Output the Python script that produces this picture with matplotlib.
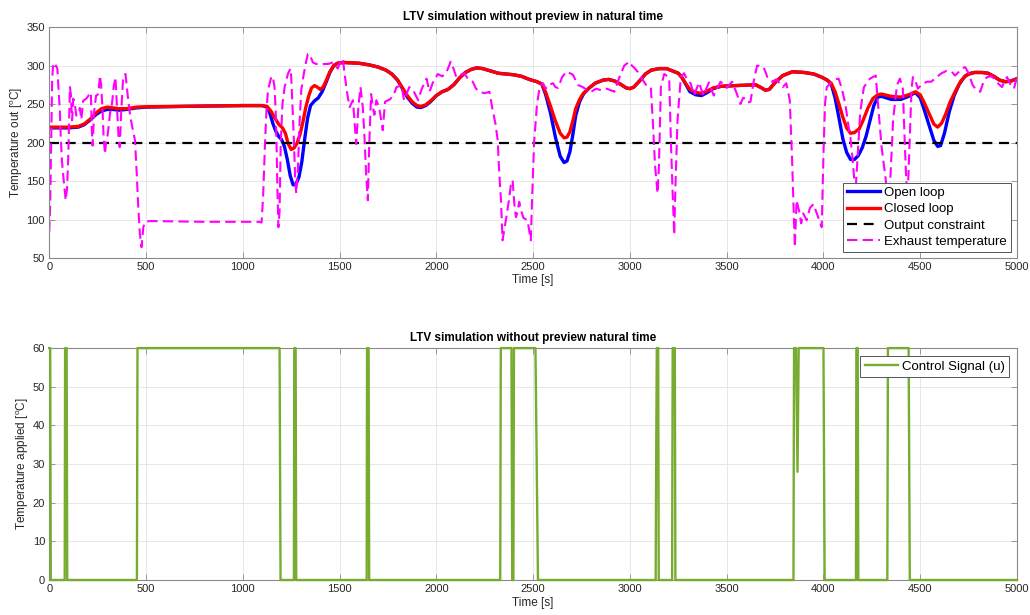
import numpy as np
import matplotlib
matplotlib.use('Agg')
from matplotlib import pyplot as plt

# ---- data ----
time_ticks = list(range(0, 5001, 500))
constraint_level = 200

closed_loop = [
    (0, 220), (100, 220), (150, 221), (180, 224), (210, 230), (240, 238), (270, 244),
    (300, 246), (330, 245), (360, 244), (400, 244), (450, 246), (500, 246.5), (700, 247),
    (1000, 248), (1100, 248), (1125, 247), (1145, 241), (1165, 232), (1185, 224),
    (1205, 219), (1220, 212), (1235, 198), (1250, 191), (1265, 193), (1280, 199),
    (1295, 210), (1310, 226), (1325, 245), (1340, 260), (1355, 271), (1370, 274),
    (1385, 272), (1400, 269), (1415, 272), (1430, 280), (1450, 292), (1470, 300),
    (1490, 303), (1520, 304), (1600, 303), (1650, 301), (1700, 298), (1740, 294),
    (1770, 289), (1800, 281), (1825, 271), (1850, 261), (1875, 253), (1900, 248),
    (1920, 247), (1945, 249), (1970, 254), (2000, 261), (2030, 266), (2060, 269),
    (2090, 275), (2120, 284), (2150, 291), (2180, 295), (2210, 297), (2240, 296),
    (2280, 293), (2320, 290), (2360, 289), (2400, 288), (2440, 286), (2480, 282),
    (2520, 279), (2545, 276), (2565, 265), (2590, 247), (2615, 228), (2640, 212),
    (2660, 206), (2675, 207), (2690, 214), (2705, 228), (2720, 244), (2740, 256),
    (2760, 264), (2790, 271), (2820, 277), (2860, 281), (2890, 282), (2920, 280),
    (2950, 276), (2980, 271), (3000, 270), (3020, 272), (3050, 280), (3080, 289),
    (3110, 294), (3150, 296), (3190, 296), (3220, 293), (3250, 290), (3270, 284),
    (3290, 276), (3310, 269), (3340, 265), (3370, 264), (3400, 267), (3430, 271),
    (3470, 273), (3550, 274), (3650, 275), (3680, 271), (3700, 268), (3720, 269),
    (3750, 278), (3790, 287), (3840, 292), (3900, 291), (3950, 289), (3990, 285),
    (4020, 281), (4040, 277), (4060, 266), (4080, 250), (4100, 233), (4120, 219),
    (4140, 212), (4160, 213), (4185, 218), (4205, 229), (4230, 245), (4255, 257),
    (4280, 262), (4300, 263), (4350, 260), (4400, 259), (4440, 262), (4475, 266),
    (4500, 262), (4520, 252), (4545, 238), (4570, 224), (4590, 220), (4610, 225),
    (4630, 236), (4655, 253), (4680, 266), (4710, 280), (4740, 288), (4780, 291),
    (4820, 291), (4850, 290), (4880, 286), (4910, 281), (4940, 279), (4970, 280),
    (5000, 283),
]

open_loop = [
    (0, 219), (100, 219), (150, 220), (180, 223), (210, 229), (240, 236), (270, 241),
    (300, 243), (330, 243), (360, 242), (400, 243), (450, 245), (500, 246), (700, 247),
    (1000, 248), (1100, 248), (1125, 246), (1140, 238), (1155, 225), (1170, 215),
    (1185, 208), (1200, 204), (1215, 195), (1230, 178), (1245, 157), (1260, 145),
    (1275, 146), (1290, 155), (1305, 175), (1320, 205), (1335, 232), (1350, 248),
    (1370, 254), (1390, 258), (1410, 266), (1430, 278), (1450, 291), (1470, 300),
    (1490, 303), (1520, 304), (1600, 303), (1650, 301), (1700, 298), (1740, 294),
    (1770, 289), (1800, 281), (1825, 270), (1850, 259), (1875, 251), (1900, 246),
    (1920, 245.5), (1945, 248), (1970, 253), (2000, 261), (2030, 266), (2060, 269),
    (2090, 275), (2120, 284), (2150, 291), (2180, 295), (2210, 297), (2240, 296),
    (2280, 293), (2320, 290), (2360, 289), (2400, 288), (2440, 286), (2480, 282),
    (2520, 279), (2545, 276), (2565, 262), (2590, 238), (2615, 207), (2640, 182),
    (2660, 174), (2675, 176), (2690, 188), (2705, 210), (2720, 235), (2740, 253),
    (2760, 263), (2790, 271), (2820, 277), (2860, 281), (2890, 282), (2920, 280),
    (2950, 276), (2980, 271), (3000, 270), (3020, 272), (3050, 280), (3080, 289),
    (3110, 294), (3150, 296), (3190, 296), (3220, 293), (3250, 290), (3270, 284),
    (3290, 275), (3310, 266), (3340, 262), (3370, 261), (3400, 265), (3430, 270),
    (3470, 273), (3550, 274), (3650, 275), (3680, 271), (3700, 268), (3720, 269),
    (3750, 278), (3790, 287), (3840, 292), (3900, 291), (3950, 289), (3990, 285),
    (4020, 281), (4040, 276), (4060, 258), (4080, 232), (4100, 205), (4120, 187),
    (4140, 178), (4160, 178), (4180, 183), (4200, 193), (4220, 208), (4240, 228),
    (4260, 248), (4280, 259), (4300, 260), (4350, 256), (4400, 256), (4440, 260),
    (4475, 265), (4500, 258), (4520, 243), (4545, 223), (4570, 203), (4590, 195),
    (4605, 196), (4625, 212), (4650, 240), (4675, 261), (4700, 275), (4730, 286),
    (4760, 290), (4780, 291), (4820, 291), (4850, 290), (4880, 286), (4910, 281),
    (4940, 279), (4970, 280), (5000, 283),
]

exhaust = [
    (0, 84), (5, 120), (10, 200), (15, 280), (20, 302), (28, 298), (35, 300), (42, 296),
    (48, 270), (55, 240), (60, 205), (66, 175), (75, 150), (85, 125), (92, 140),
    (98, 180), (103, 230), (107, 272), (112, 262), (118, 229), (124, 257), (132, 250),
    (140, 235), (150, 237), (158, 245), (166, 230), (175, 254), (185, 256), (195, 258),
    (205, 262), (215, 265), (220, 216), (224, 196), (232, 240), (242, 261), (250, 262),
    (256, 270), (262, 287), (268, 275), (275, 245), (281, 207), (288, 185), (295, 205),
    (302, 210), (315, 240), (324, 250), (333, 272), (342, 285), (350, 246), (358, 207),
    (364, 194), (372, 240), (382, 285), (394, 289), (405, 262), (417, 237), (426, 224),
    (435, 213), (443, 203), (452, 160), (460, 116), (468, 82), (477, 64), (486, 90),
    (495, 97), (520, 98), (800, 97), (1087, 97), (1097, 96), (1105, 130), (1115, 200),
    (1122, 240), (1130, 268), (1147, 285), (1155, 286), (1164, 272), (1170, 240),
    (1175, 190), (1179, 138), (1184, 90), (1190, 110), (1196, 200), (1205, 250),
    (1216, 272), (1233, 289), (1242, 294), (1248, 296), (1255, 258), (1264, 203),
    (1271, 151), (1276, 134), (1284, 160), (1293, 224), (1302, 268), (1315, 289),
    (1328, 306), (1336, 315), (1345, 315), (1362, 304), (1380, 302), (1410, 302),
    (1440, 302), (1466, 304), (1491, 296), (1509, 309), (1518, 307), (1526, 289),
    (1540, 263), (1552, 246), (1569, 255), (1578, 224), (1586, 198), (1597, 246),
    (1608, 272), (1620, 246), (1628, 211), (1637, 160), (1646, 125), (1654, 203),
    (1663, 263), (1672, 246), (1680, 236),
    (1690, 255), (1705, 245), (1723, 216), (1735, 253), (1760, 256), (1780, 262),
    (1794, 272), (1820, 274), (1833, 255), (1846, 263), (1860, 272), (1880, 268),
    (1906, 255), (1925, 270), (1949, 283), (1965, 266), (1985, 280), (2008, 289),
    (2030, 286), (2050, 290), (2074, 305), (2090, 295), (2103, 285), (2125, 288),
    (2145, 290), (2165, 282), (2188, 279), (2205, 270), (2222, 266), (2250, 264),
    (2274, 266), (2291, 242), (2305, 225), (2317, 203), (2325, 160), (2334, 125),
    (2342, 73), (2350, 85), (2359, 99), (2375, 125), (2385, 145), (2394, 151),
    (2403, 120), (2411, 103), (2420, 110), (2428, 123), (2440, 110), (2450, 102),
    (2471, 99), (2480, 85), (2488, 73), (2495, 130), (2505, 200), (2520, 250),
    (2534, 272), (2551, 277), (2565, 270), (2580, 275), (2603, 277), (2615, 272),
    (2629, 271), (2650, 285), (2671, 292), (2690, 290), (2706, 288), (2730, 275),
    (2757, 272), (2780, 268), (2800, 266), (2825, 270), (2850, 268), (2880, 270),
    (2920, 266), (2946, 285), (2971, 300), (2997, 305), (3010, 300), (3023, 297),
    (3040, 292), (3057, 285), (3083, 275), (3108, 272), (3118, 229), (3130, 170),
    (3143, 134), (3150, 170), (3160, 272), (3177, 289), (3195, 286), (3203, 283),
    (3212, 200), (3220, 140), (3229, 80), (3236, 150), (3246, 229), (3263, 285),
    (3280, 290), (3298, 280), (3314, 277), (3331, 261), (3345, 270), (3357, 278),
    (3370, 268), (3383, 261), (3395, 270), (3408, 278), (3420, 270), (3433, 261),
    (3450, 270), (3468, 279), (3485, 275), (3500, 271), (3528, 279), (3550, 265),
    (3571, 250), (3585, 258), (3598, 257), (3610, 252), (3623, 253), (3640, 280),
    (3657, 300), (3675, 299), (3691, 298), (3710, 285), (3734, 279), (3755, 282),
    (3774, 277), (3790, 272), (3808, 277), (3826, 255), (3838, 177), (3852, 64),
    (3861, 125), (3875, 110), (3885, 95), (3895, 108), (3913, 99), (3930, 115),
    (3948, 120), (3970, 105), (3991, 90), (4000, 185), (4008, 250), (4017, 272),
    (4040, 278), (4060, 282), (4078, 283), (4095, 270), (4113, 250), (4130, 220),
    (4139, 207), (4150, 180), (4165, 134), (4175, 175), (4190, 240), (4209, 272),
    (4240, 283), (4270, 287), (4285, 240), (4300, 195), (4322, 151), (4335, 125),
    (4345, 150), (4360, 230), (4380, 275), (4395, 283), (4410, 270), (4420, 200),
    (4428, 150), (4435, 130), (4445, 200), (4455, 270), (4462, 285), (4475, 280),
    (4488, 270), (4510, 276), (4535, 279), (4557, 279), (4585, 285), (4610, 290),
    (4635, 293), (4662, 292), (4680, 287), (4700, 292), (4715, 296), (4732, 298),
    (4750, 290), (4770, 275), (4790, 268), (4810, 266), (4828, 280), (4845, 285),
    (4865, 286), (4890, 282), (4905, 276), (4923, 272), (4935, 280), (4949, 285),
    (4965, 276), (4984, 270), (5000, 285),
]

control_signal = [
    (0, 60), (5, 60), (8, 0), (80, 0), (82, 60), (90, 60), (93, 0), (453, 0), (456, 60),
    (1190, 60), (1195, 0), (1264, 0), (1266, 60), (1273, 60), (1276, 0), (1640, 0),
    (1642, 60), (1650, 60), (1653, 0), (2330, 0), (2333, 60), (2388, 60), (2392, 0),
    (2398, 0), (2401, 60), (2512, 60), (2525, 0), (3133, 0), (3136, 34), (3139, 60),
    (3146, 60), (3149, 0), (3218, 0), (3221, 60), (3232, 60), (3235, 0), (3845, 0),
    (3848, 60), (3858, 60), (3866, 28), (3872, 60), (4000, 60), (4006, 0), (4168, 0),
    (4170, 60), (4177, 60), (4180, 0), (4330, 0), (4333, 60), (4440, 60), (4446, 0),
    (5000, 0),
]


def split(pairs):
    arr = np.array(pairs, dtype=float)
    return arr[:, 0], arr[:, 1]


def matlab_style(ax):
    ax.grid(True, color='#e3e3e3', linewidth=0.6)
    ax.set_axisbelow(True)
    for s in ax.spines.values():
        s.set_color('#8a8a8a')
        s.set_linewidth(0.8)
    ax.tick_params(direction='in', length=4, width=0.6, color='#8a8a8a',
                   labelcolor='#262626', labelsize=8, top=True, right=True, pad=3)


plt.rcParams['font.family'] = ['Liberation Sans', 'DejaVu Sans']
plt.rcParams['mathtext.fontset'] = 'custom'
plt.rcParams['mathtext.rm'] = 'Liberation Sans'

fig = plt.figure(figsize=(10.3, 6.15), dpi=100)
ax1 = fig.add_axes([0.0478, 0.5805, 0.9396, 0.3755])
ax2 = fig.add_axes([0.0478, 0.0569, 0.9396, 0.3771])

t, y = split(open_loop)
ax1.plot(t, y, color='#0000ff', lw=2.4, label='Open loop')
t, y = split(closed_loop)
ax1.plot(t, y, color='#ff0000', lw=2.4, label='Closed loop')
ax1.axhline(constraint_level, color='black', lw=1.6, linestyle=(0, (4.5, 3)),
            label='Output constraint')
t, y = split(exhaust)
ax1.plot(t, y, color='#ff00ff', lw=1.5, linestyle=(0, (5, 2.5)), label='Exhaust temperature')

ax1.set_xlim(0, 5000)
ax1.set_ylim(50, 350)
ax1.set_xticks(time_ticks)
ax1.set_yticks(range(50, 351, 50))
matlab_style(ax1)
ax1.set_title('LTV simulation without preview in natural time', fontsize=8.5,
              fontweight='bold', pad=5)
ax1.set_xlabel('Time [s]', fontsize=8.5, color='#262626', labelpad=1)
ax1.set_ylabel(r'Temperature out [$^\mathrm{o}$C]', fontsize=8.5, color='#262626', labelpad=1)
leg = ax1.legend(loc='lower right', fontsize=9.5, fancybox=False, framealpha=1,
                 edgecolor='#555555', borderpad=0.3, labelspacing=0.32,
                 handlelength=2.5, handletextpad=0.3, borderaxespad=0.45)
leg.get_frame().set_linewidth(0.7)

t, u = split(control_signal)
ax2.plot(t, u, color='#77ac30', lw=1.7, label='Control Signal (u)', clip_on=False, zorder=3)
ax2.set_xlim(0, 5000)
ax2.set_ylim(0, 60)
ax2.set_xticks(time_ticks)
ax2.set_yticks(range(0, 61, 10))
matlab_style(ax2)
ax2.set_title('LTV simulation without preview natural time', fontsize=8.5,
              fontweight='bold', pad=5)
ax2.set_xlabel('Time [s]', fontsize=8.5, color='#262626', labelpad=2)
ax2.set_ylabel(r'Temperature applied [$^\mathrm{o}$C]', fontsize=8.5, color='#262626', labelpad=1)
leg2 = ax2.legend(loc='upper right', fontsize=9.5, fancybox=False, framealpha=1,
                  edgecolor='#555555', borderpad=0.35, handlelength=2.5,
                  handletextpad=0.3, borderaxespad=0.6)
leg2.get_frame().set_linewidth(0.7)

fig.savefig('out.png', dpi=100)
